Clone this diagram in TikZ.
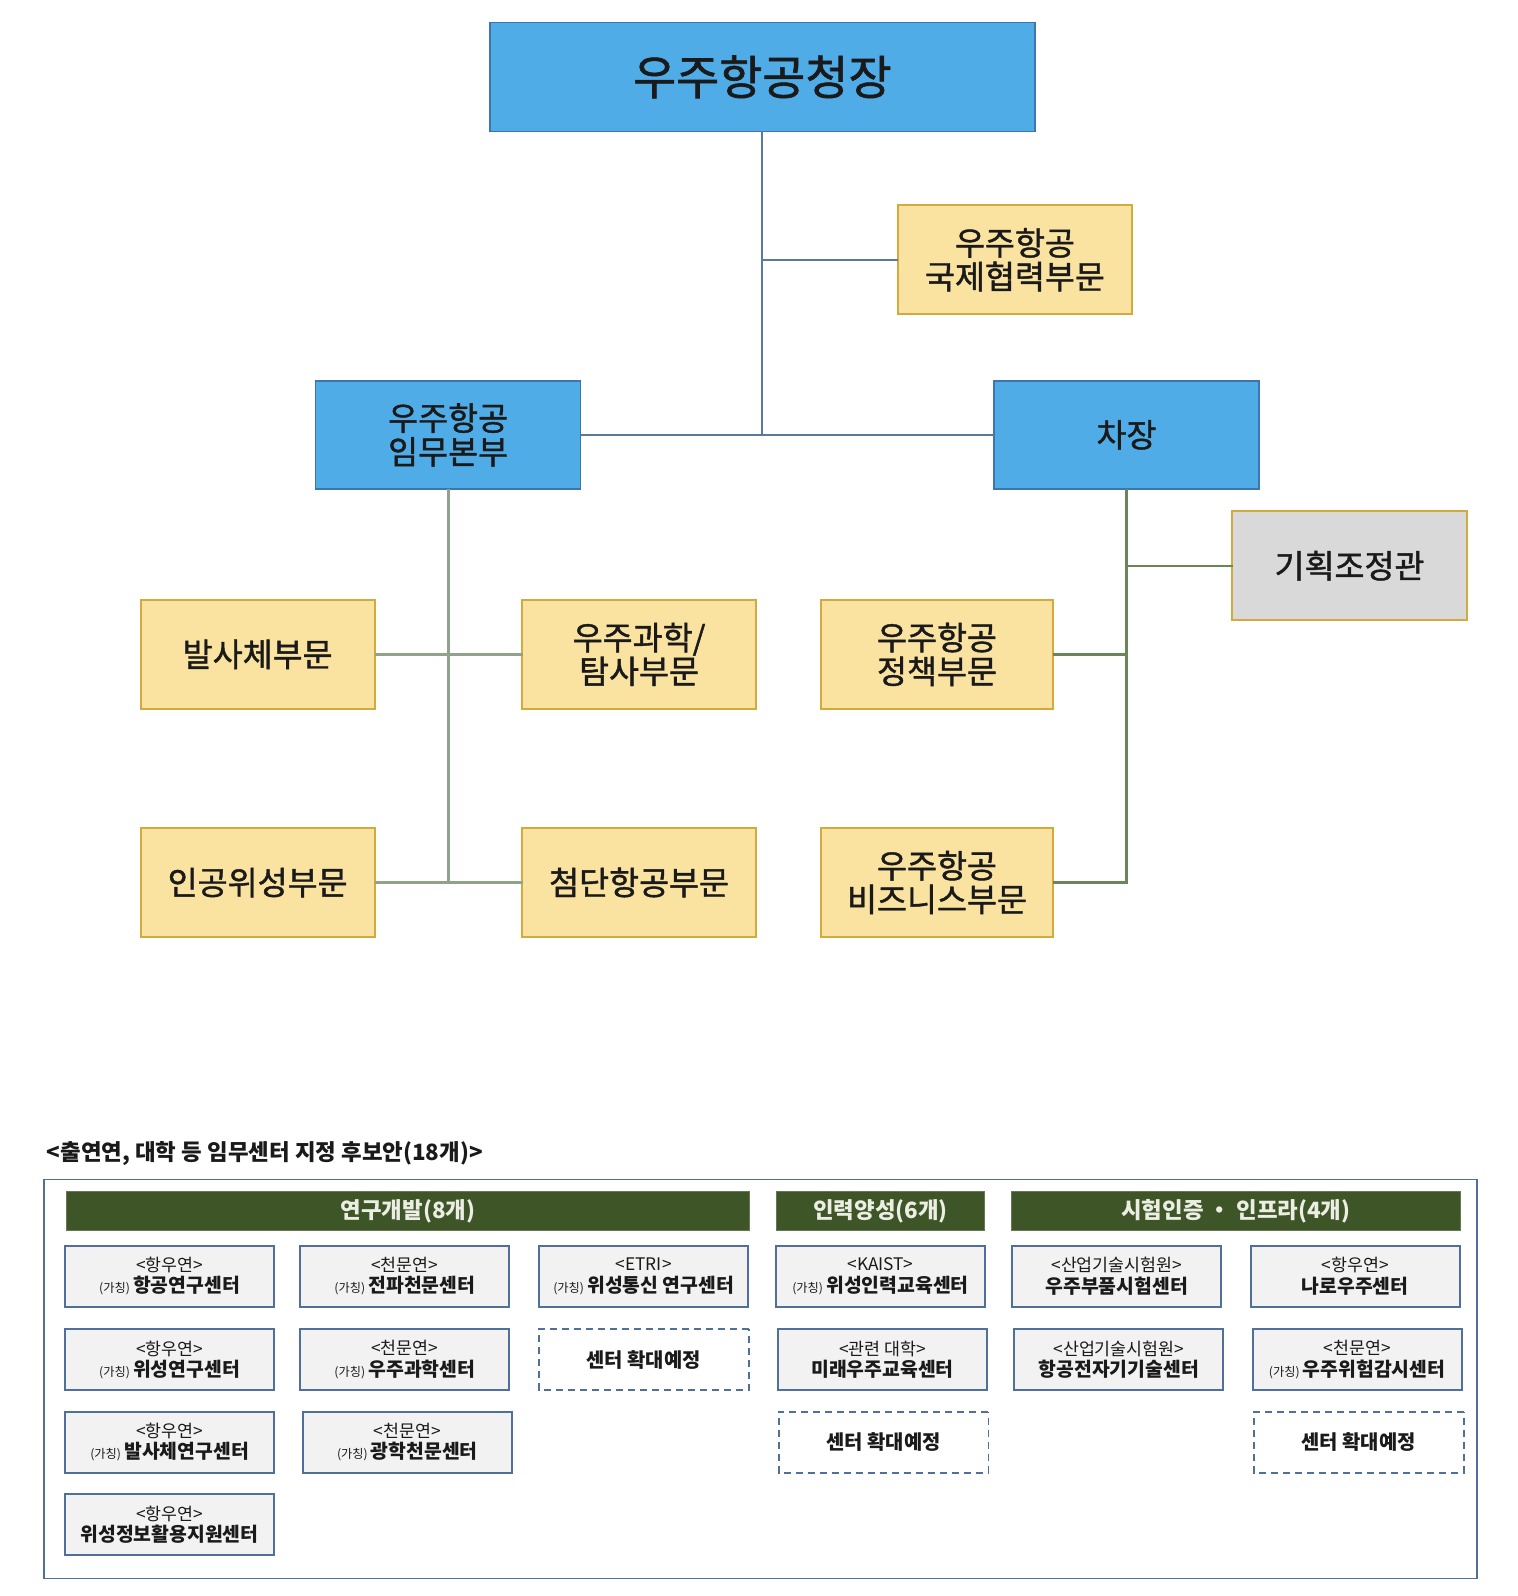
\documentclass[tikz,border=0pt]{standalone}
\usepackage{fontspec}
\setmainfont{Noto Sans CJK KR}
\newfontfamily\krm[FakeBold=1.3]{Noto Sans CJK KR}
\definecolor{bfill}{HTML}{4FACE7}
\definecolor{bdraw}{HTML}{3F75AE}
\definecolor{yfill}{HTML}{FAE3A0}
\definecolor{ydraw}{HTML}{D2AA3E}
\definecolor{gfill}{HTML}{D9D9D9}
\definecolor{lblue}{HTML}{5A7A9C}
\definecolor{lgreenA}{HTML}{8FA38A}
\definecolor{lgreenB}{HTML}{6A8658}
\definecolor{hdr}{HTML}{3E5528}
\definecolor{hdrtxt}{HTML}{ECEEE4}
\definecolor{sfill}{HTML}{F2F2F2}
\definecolor{sdraw}{HTML}{50709A}
\definecolor{txt}{HTML}{1A1A1A}
\tikzset{
  base/.style={inner sep=0pt, outer sep=0pt, align=center, text=txt},
  bluebox/.style={base, fill=bfill, draw=bdraw, line width=1.5pt},
  yelbox/.style={base, fill=yfill, draw=ydraw, line width=2pt, minimum width=229pt, minimum height=107pt},
  graybox/.style={base, fill=gfill, draw=ydraw, line width=2pt, minimum width=230pt, minimum height=107pt},
  midfont/.style={font=\krm\fontsize{32}{33}\selectfont},
  hdrbox/.style={base, fill=hdr, draw=hdr!80!white, line width=1pt, minimum height=38pt, text=hdrtxt, font=\fontsize{22}{24}\selectfont\bfseries},
  sbox/.style={base, fill=sfill, draw=sdraw, line width=2pt, minimum width=205pt, minimum height=60pt, font=\fontsize{19}{21}\selectfont},
  dbox/.style={base, draw=sdraw, line width=1.8pt, dash pattern=on 7pt off 5pt, minimum width=206pt, minimum height=60pt, font=\fontsize{19.5}{21}\selectfont\bfseries},
  lineblue/.style={draw=lblue, line width=2pt},
  lineA/.style={draw=lgreenA, line width=3pt},
  lineB/.style={draw=lgreenB, line width=2.5pt},
}
\newcommand{\tp}[2]{{\fontsize{17}{18}\selectfont <#1>}\\{\bfseries #2}}
\newcommand{\tpk}[2]{{\fontsize{17}{18}\selectfont <#1>}\\{\fontsize{12}{14}\selectfont (가칭)}\,{\bfseries #2}}
\begin{document}
\begin{tikzpicture}[x=1pt,y=-1pt,scale=1.0185,transform shape]
\useasboundingbox (0,0) rectangle (1490.43,1567.01);
\fill[white] (0,0) rectangle (1490.43,1567.01);
% top nodes
\node[bluebox, minimum width=535pt, minimum height=107pt, font=\krm\fontsize{46}{48}\selectfont] (chief) at (748.5,75.5) {우주항공청장};
\node[yelbox, midfont] (intl) at (996.5,255) {우주항공\\국제협력부문};
\node[bluebox, minimum width=260pt, minimum height=106pt, midfont] (hq) at (440,427) {우주항공\\임무본부};
\node[bluebox, minimum width=260pt, minimum height=106pt, midfont] (dep) at (1106,427) {차장};
\node[graybox, midfont] (plan) at (1325,555.5) {기획조정관};
\node[yelbox, midfont, minimum width=230pt] (launch) at (253,642.5) {발사체부문};
\node[yelbox, midfont] (sci) at (627.5,642.5) {우주과학/\\탐사부문};
\node[yelbox, midfont, minimum width=228pt] (pol) at (920,642.5) {우주항공\\정책부문};
\node[yelbox, midfont, minimum width=230pt] (sat) at (253,866.5) {인공위성부문};
\node[yelbox, midfont] (aero) at (627.5,866.5) {첨단항공부문};
\node[yelbox, midfont, minimum width=228pt] (biz) at (920,866.5) {우주항공\\비즈니스부문};
% connectors
\draw[lineblue] (chief.south) -- (chief.south |- hq.east);
\draw[lineblue] (chief.south |- intl.west) -- (intl.west);
\draw[lineblue] (hq.east) -- (dep.west);
\draw[lineA] (hq.south) -- (hq.south |- sat.east);
\draw[lineA] (launch.east) -- (sci.west);
\draw[lineA] (sat.east) -- (aero.west);
\draw[lineB] (dep.south) -- (dep.south |- biz.east) -- (biz.east);
\draw[lineB] (dep.south |- plan.west) -- (plan.west);
\draw[lineB] (pol.east) -- (pol.east -| dep.south);
% bottom section
\node[base, anchor=west, font=\fontsize{22}{24}\selectfont\bfseries] (title) at (46,1133) {<출연연, 대학 등 임무센터 지정 후보안(18개)>};
\node[base, draw=sdraw, line width=1.5pt, minimum width=1407pt, minimum height=392pt] (outer) at (746.5,1354) {};
\node[hdrbox, minimum width=671pt] (h1) at (400.5,1189) {연구개발(8개)};
\node[hdrbox, minimum width=205pt] (h2) at (864.5,1189) {인력양성(6개)};
\node[hdrbox, minimum width=441pt] (h3) at (1213.5,1189) {시험인증 ・ 인프라(4개)};
% row 1
\node[sbox] (a1) at (166.5,1253) {\tpk{항우연}{항공연구센터}};
\node[sbox] (b1) at (397.5,1253) {\tpk{천문연}{전파천문센터}};
\node[sbox] (c1) at (632,1253) {\tpk{ETRI}{위성통신 연구센터}};
\node[sbox] (d1) at (864.5,1253) {\tpk{KAIST}{위성인력교육센터}};
\node[sbox] (e1) at (1096.5,1253) {\tp{산업기술시험원}{우주부품시험센터}};
\node[sbox] (f1) at (1330.5,1253) {\tp{항우연}{나로우주센터}};
% row 2
\node[sbox] (a2) at (166.5,1335) {\tpk{항우연}{위성연구센터}};
\node[sbox] (b2) at (397.5,1335) {\tpk{천문연}{우주과학센터}};
\node[dbox] (c2) at (632,1335) {센터 확대예정};
\node[sbox] (d2) at (866.5,1335) {\tp{관련 대학}{미래우주교육센터}};
\node[sbox] (e2) at (1098.5,1335) {\tp{산업기술시험원}{항공전자기기술센터}};
\node[sbox] (f2) at (1332.5,1335) {\tpk{천문연}{우주위험감시센터}};
% row 3
\node[sbox] (a3) at (166.5,1416) {\tpk{항우연}{발사체연구센터}};
\node[sbox] (b3) at (400,1416) {\tpk{천문연}{광학천문센터}};
\node[dbox] (d3) at (867.5,1416) {센터 확대예정};
\node[dbox] (f3) at (1334,1416) {센터 확대예정};
% row 4
\node[sbox] (a4) at (166.5,1497) {\tp{항우연}{위성정보활용지원센터}};
\end{tikzpicture}
\end{document}
